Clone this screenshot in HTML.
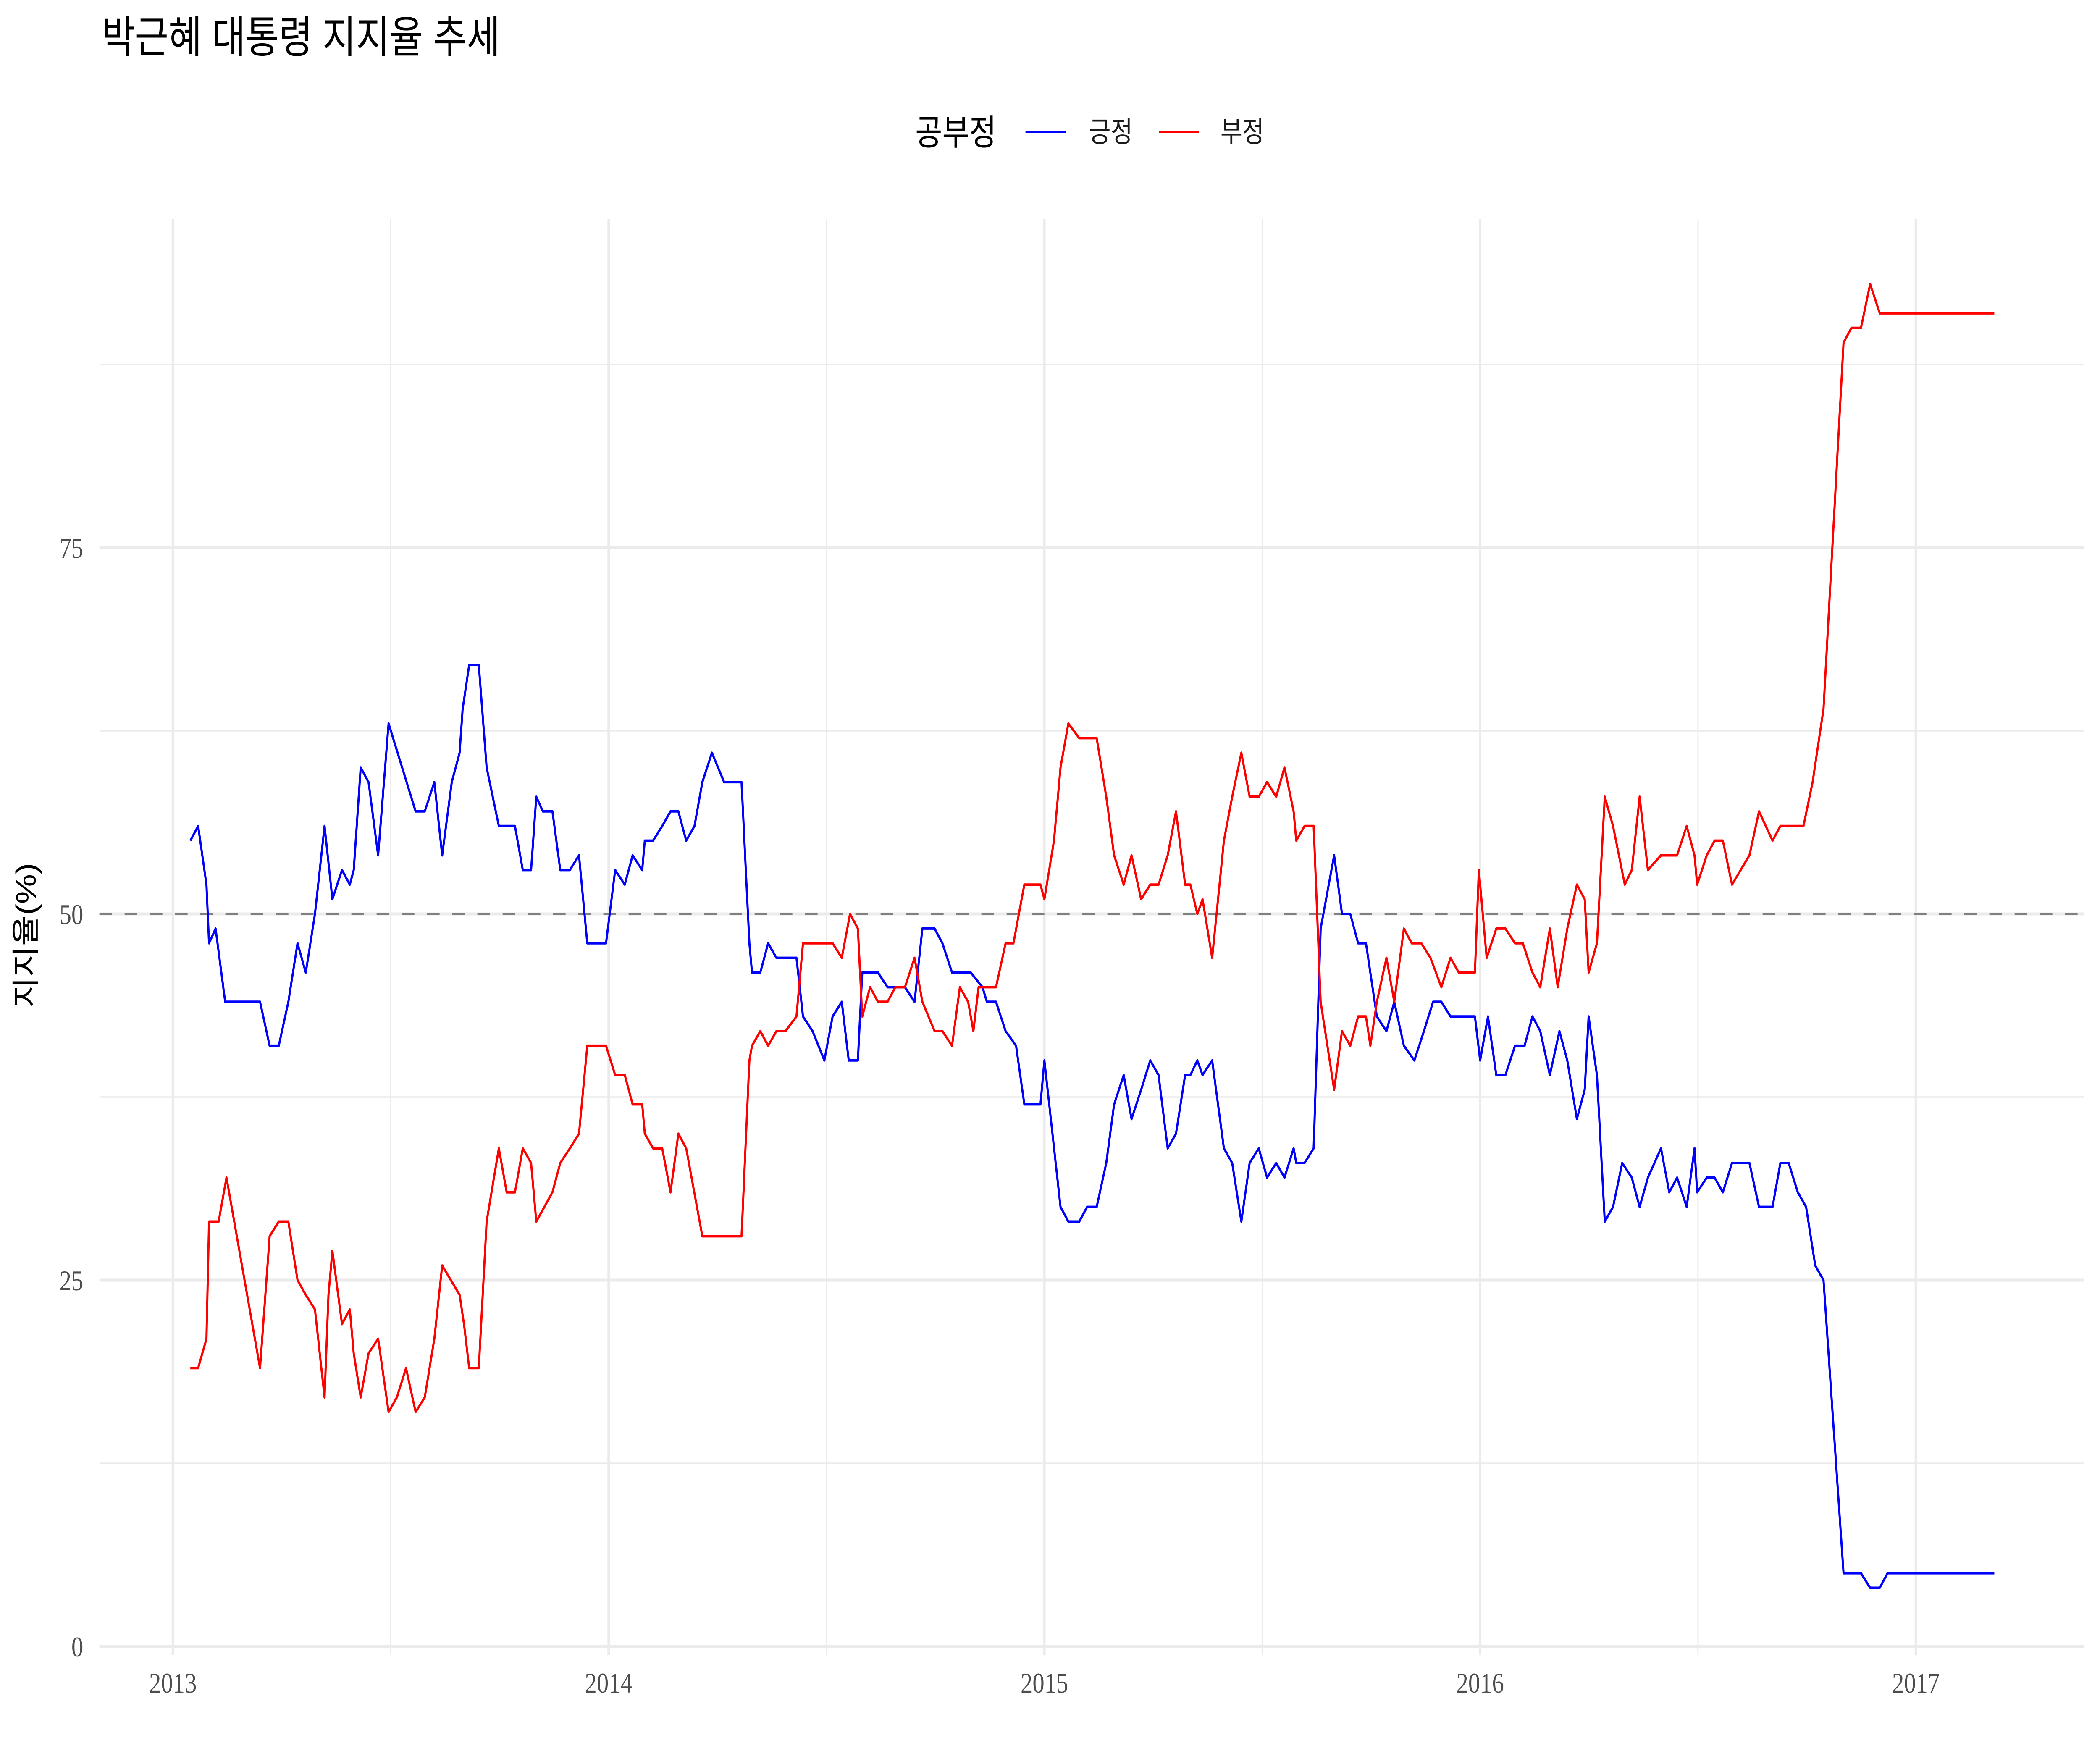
<!DOCTYPE html>
<html><head><meta charset="utf-8">
<style>
html,body{margin:0;padding:0;background:#fff;width:100%;height:100%;overflow:hidden;}
svg{display:block;width:100vw;height:100vh;}
</style></head>
<body>
<svg id="chart" viewBox="0 0 6000 4200" preserveAspectRatio="none" xmlns="http://www.w3.org/2000/svg">
<rect width="6000" height="4200" fill="#fff"/>
<text x="290" y="125" font-family="'Liberation Sans','Noto Sans CJK KR',sans-serif" font-size="104" fill="#000">박근혜 대통령 지지율 추세</text>
<g font-family="'Liberation Sans','Noto Sans CJK KR',sans-serif">
  <text x="2615" y="345" font-size="84" fill="#000">공부정</text>
  <line x1="2930" y1="314" x2="3046" y2="314" stroke="#0000ff" stroke-width="6"/>
  <text x="3111" y="338" font-size="68" fill="#1a1a1a">긍정</text>
  <line x1="3312" y1="314" x2="3426" y2="314" stroke="#ff0000" stroke-width="6"/>
  <text x="3487" y="338" font-size="68" fill="#1a1a1a">부정</text>
</g>
<g id="grid"></g>
<g id="marks"></g>
<g id="axes"></g>
<text transform="translate(102,2227) rotate(-90)" text-anchor="middle" font-family="'Liberation Sans','Noto Sans CJK KR',sans-serif" font-size="80" fill="#000">지지율(%)</text>
</svg>
<script>
const posDates=[2013.040,2013.058,2013.077,2013.083,2013.098,2013.120,2013.200,2013.222,2013.243,2013.265,2013.286,2013.305,2013.326,2013.348,2013.366,2013.388,2013.406,2013.415,2013.431,2013.449,2013.471,2013.495,2013.557,2013.578,2013.600,2013.618,2013.640,2013.658,2013.665,2013.680,2013.702,2013.720,2013.748,2013.785,2013.803,2013.822,2013.834,2013.849,2013.871,2013.889,2013.911,2013.932,2013.951,2013.994,2014.015,2014.037,2014.055,2014.077,2014.083,2014.102,2014.123,2014.142,2014.160,2014.178,2014.197,2014.215,2014.237,2014.265,2014.305,2014.323,2014.329,2014.348,2014.366,2014.385,2014.431,2014.446,2014.468,2014.495,2014.514,2014.535,2014.551,2014.572,2014.582,2014.618,2014.640,2014.680,2014.702,2014.720,2014.748,2014.766,2014.788,2014.831,2014.858,2014.868,2014.889,2014.911,2014.935,2014.954,2014.991,2015.000,2015.037,2015.055,2015.080,2015.098,2015.120,2015.142,2015.160,2015.182,2015.200,2015.222,2015.243,2015.262,2015.283,2015.302,2015.323,2015.335,2015.351,2015.363,2015.385,2015.412,2015.431,2015.452,2015.471,2015.492,2015.511,2015.532,2015.551,2015.572,2015.578,2015.597,2015.618,2015.634,2015.665,2015.683,2015.702,2015.720,2015.738,2015.763,2015.785,2015.803,2015.825,2015.849,2015.871,2015.892,2015.911,2015.932,2015.988,2016.000,2016.018,2016.037,2016.058,2016.080,2016.102,2016.120,2016.138,2016.160,2016.182,2016.200,2016.222,2016.240,2016.249,2016.268,2016.286,2016.305,2016.326,2016.348,2016.366,2016.385,2016.415,2016.434,2016.452,2016.474,2016.492,2016.498,2016.520,2016.538,2016.557,2016.578,2016.618,2016.640,2016.671,2016.689,2016.708,2016.729,2016.748,2016.769,2016.788,2016.834,2016.874,2016.895,2016.917,2016.935,2017.180];
const posValues=[55,56,52,48,49,44,44,41,41,44,48,46,50,56,51,53,52,53,60,59,54,63,57,57,59,54,59,61,64,67,67,60,56,56,53,53,58,57,57,53,53,54,48,48,53,52,54,53,55,55,56,57,57,55,56,59,61,59,59,48,46,46,48,47,47,43,42,40,43,44,40,40,46,46,45,45,44,49,49,48,46,46,45,44,44,42,41,37,37,40,30,29,29,30,30,33,37,39,36,38,40,39,34,35,39,39,40,39,40,34,33,29,33,34,32,33,32,34,33,33,34,49,54,50,50,48,48,43,42,44,41,40,42,44,44,43,43,40,43,39,39,41,41,43,42,39,42,40,36,38,43,39,29,30,33,32,30,32,34,31,32,30,34,31,32,32,31,33,33,30,30,33,33,31,30,26,25,5,5,4,4,5,5];
const negDates=[2013.040,2013.058,2013.077,2013.083,2013.105,2013.123,2013.200,2013.222,2013.243,2013.265,2013.286,2013.305,2013.326,2013.348,2013.357,2013.366,2013.388,2013.406,2013.415,2013.431,2013.449,2013.471,2013.495,2013.514,2013.535,2013.557,2013.578,2013.600,2013.618,2013.658,2013.668,2013.680,2013.702,2013.720,2013.748,2013.766,2013.785,2013.803,2013.822,2013.834,2013.871,2013.889,2013.911,2013.932,2013.951,2013.994,2014.015,2014.037,2014.055,2014.077,2014.083,2014.102,2014.123,2014.142,2014.160,2014.178,2014.215,2014.305,2014.323,2014.329,2014.348,2014.366,2014.385,2014.406,2014.431,2014.446,2014.514,2014.535,2014.554,2014.572,2014.582,2014.600,2014.618,2014.640,2014.658,2014.680,2014.702,2014.720,2014.748,2014.766,2014.788,2014.806,2014.825,2014.837,2014.849,2014.889,2014.911,2014.929,2014.954,2014.991,2015.000,2015.022,2015.037,2015.055,2015.080,2015.120,2015.142,2015.160,2015.182,2015.200,2015.222,2015.243,2015.262,2015.283,2015.302,2015.323,2015.335,2015.351,2015.363,2015.385,2015.412,2015.431,2015.452,2015.471,2015.492,2015.511,2015.532,2015.551,2015.572,2015.578,2015.597,2015.618,2015.634,2015.665,2015.683,2015.702,2015.720,2015.738,2015.748,2015.763,2015.785,2015.803,2015.825,2015.843,2015.865,2015.886,2015.911,2015.932,2015.951,2015.988,2015.997,2016.015,2016.037,2016.058,2016.080,2016.098,2016.120,2016.138,2016.160,2016.178,2016.200,2016.222,2016.240,2016.249,2016.268,2016.286,2016.305,2016.332,2016.348,2016.366,2016.385,2016.415,2016.452,2016.474,2016.492,2016.498,2016.520,2016.538,2016.557,2016.578,2016.618,2016.640,2016.671,2016.689,2016.742,2016.763,2016.788,2016.834,2016.852,2016.874,2016.895,2016.917,2017.180];
const negValues=[19,19,21,29,29,32,19,28,29,29,25,24,23,17,24,27,22,23,20,17,20,21,16,17,19,16,17,21,26,24,22,19,19,29,34,31,31,34,33,29,31,33,34,35,41,41,39,39,37,37,35,34,34,31,35,34,28,28,40,41,42,41,42,42,43,48,48,47,50,49,43,45,44,44,45,45,47,44,42,42,41,45,44,42,45,45,48,48,52,52,51,55,60,63,62,62,58,54,52,54,51,52,52,54,57,52,52,50,51,47,55,58,61,58,58,59,58,60,57,55,56,56,44,38,42,41,43,43,41,44,47,44,49,48,48,47,45,47,46,46,53,47,49,49,48,48,46,45,49,45,49,52,51,46,48,58,56,52,53,58,53,54,54,56,54,52,54,55,55,52,54,57,55,56,56,59,64,89,90,90,93,91,91];
const xTickYears=[2013,2014,2015,2016,2017];
const xTickLabels=["2013","2014","2015","2016","2017"];
const yTicks=[0,25,50,75];
const yTickLabels=["0","25","50","75"];
const yMinor=[12.5,37.5,62.5,87.5];
const refValue=50;

const NS="http://www.w3.org/2000/svg";
const X0=494, PXY=1245, Y0=3920, PXV=34.88;
const PL=284, PR=5954, PT=522, PB=3920;
function xs(d){return X0+(d-2013)*PXY;}
function ys(v){return Y0-v*PXV;}
function mk(tag,attrs,parent){const e=document.createElementNS(NS,tag);for(const k in attrs)e.setAttribute(k,attrs[k]);parent.appendChild(e);return e;}
const grid=document.getElementById('grid'), marks=document.getElementById('marks'), axes=document.getElementById('axes');

yMinor.forEach(v=>{
  const l=mk('line',{x1:PL,x2:PR,y1:ys(v),y2:ys(v),stroke:'#ebebeb','stroke-width':3.5},grid);
  
  
});
xTickYears.slice(0,-1).forEach(y=>{
  const l=mk('line',{x1:xs(y+0.5),x2:xs(y+0.5),y1:PT,y2:PB+20,stroke:'#ebebeb','stroke-width':3.5},grid);
  
  
});
yTicks.forEach((v,i)=>{
  const l=mk('line',{x1:PL,x2:PR,y1:ys(v),y2:ys(v),stroke:'#ebebeb','stroke-width':v===0?8:7},grid);
  
  
  const t=mk('text',{x:238,y:ys(v)+24,'text-anchor':'end','font-family':"'Liberation Serif',serif",'font-size':68,fill:'#4d4d4d'},axes);
  t.textContent=yTickLabels[i];
  
  
});
xTickYears.forEach((y,i)=>{
  const l=mk('line',{x1:xs(y),x2:xs(y),y1:PT,y2:PB+20,stroke:'#ebebeb','stroke-width':7},grid);
  
  
  const t=mk('text',{x:xs(y),y:4030,'text-anchor':'middle','font-family':"'Liberation Serif',serif",'font-size':68,fill:'#4d4d4d'},axes);
  t.textContent=xTickLabels[i];
  
  
});
const ref=mk('line',{x1:PL,x2:PR,y1:ys(refValue),y2:ys(refValue),stroke:'#7f7f7f','stroke-width':6,'stroke-dasharray':'36 36'},marks);



function path(dates,vals){return dates.map((d,i)=>(i?'L':'M')+xs(d).toFixed(1)+','+ys(vals[i]).toFixed(1)).join('');}
const p1=mk('path',{d:path(posDates,posValues),fill:'none',stroke:'#0000ff','stroke-width':6,'stroke-linejoin':'round'},marks);


const p2=mk('path',{d:path(negDates,negValues),fill:'none',stroke:'#ff0000','stroke-width':6,'stroke-linejoin':'round'},marks);


</script>
</body></html>
